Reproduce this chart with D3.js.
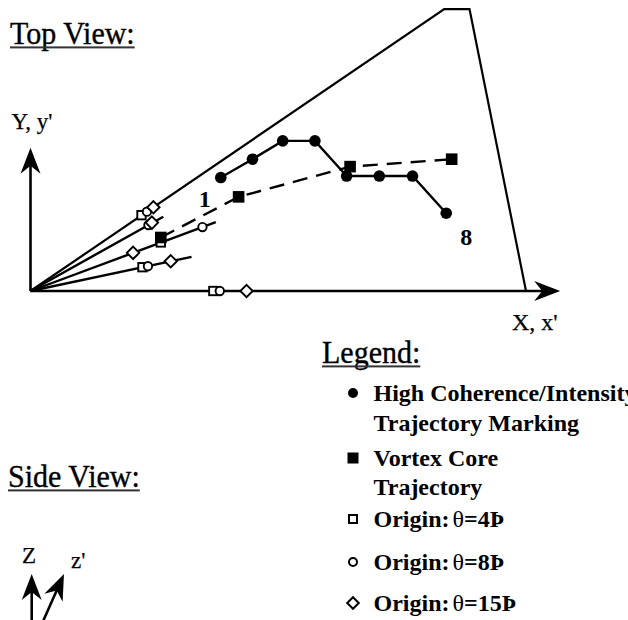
<!DOCTYPE html>
<html>
<head>
<meta charset="utf-8">
<script src="https://cdn.jsdelivr.net/npm/d3@7"></script>
<style>
  html, body { margin: 0; padding: 0; background: #fff; }
  svg { display: block; }
</style>
</head>
<body>
<svg id="fig" width="628" height="620"></svg>
<script>
// ---- planform geometry (percent of root chord, origin at the apex) ----
const planform = [[0, 0], [83.5, 56.9], [88.6, 56.9], [100, 0]];

// spanwise stations (rays from the apex); the x axis is the last one
const rayEnds = [[26.8, 15.0], [37.4, 13.9], [32.5, 6.9]];

// origin of the vortex at each station, for three angles of attack
const origin4  = [[22.4, 15.3], [26.3, 9.8], [22.6, 4.8], [36.9, 0]];
const origin8  = [[23.5, 16.0], [23.8, 13.3], [34.7, 12.9], [23.7, 5.0], [38.2, 0]];
const origin15 = [[24.8, 16.9], [24.5, 13.8], [20.7, 7.7], [28.3, 6.0], [43.6, 0]];

// high coherence / intensity trajectory markings 1..8
const markingX = [38.4, 44.8, 50.9, 57.4, 63.8, 70.4, 77.1, 83.9];
const markingY = [22.9, 26.6, 30.3, 30.3, 23.2, 23.2, 23.2, 15.7];

// vortex core trajectory
const coreX = [26.3, 42.0, 64.5, 85.0];
const coreY = [10.8, 19.0, 25.1, 26.6];

// axis extents (arrow tips)
const xAxisEnd = 106.9;
const yAxisEnd = 28.9;

const legendItems = [
  { mark: "dot",     lines: ["High Coherence/Intensity", "Trajectory Marking"] },
  { mark: "square",  lines: ["Vortex Core", "Trajectory"] },
  { mark: "osquare", lines: ["Origin:", "θ", "=4Þ"] },
  { mark: "ocircle", lines: ["Origin:", "θ", "=8Þ"] },
  { mark: "odiamond",lines: ["Origin:", "θ", "=15Þ"] }
];

const FONT = "'Liberation Serif','Times New Roman',Times,serif";
const svg = d3.select("#fig");

const x = d3.scaleLinear().domain([0, 100]).range([30.5, 526]);
const y = d3.scaleLinear().domain([0, 100]).range([291, 291 - 495.5]);

// barbed arrow head, tip at (tx,ty), pointing along angle (deg, svg convention)
function arrowHead(g, tipX, tipY, ang) {
  g.append("path")
    .attr("d", "M0,0 L-26,-10 L-18,0 L-26,10 Z")
    .attr("transform", `translate(${tipX},${tipY}) rotate(${ang})`)
    .attr("fill", "#000");
}

// section heading, slightly tall, with a rule beneath it
function underlinedTitle(txt, px, py, size) {
  const g = svg.append("g")
    .attr("transform", `translate(${px},${py}) scale(1,1.08)`);
  const t = g.append("text")
    .attr("x", 0).attr("y", 0)
    .attr("font-family", FONT).attr("font-size", size)
    .attr("fill", "#000").attr("stroke", "#000").attr("stroke-width", 0.35)
    .text(txt);
  const w = t.node().getComputedTextLength();
  svg.append("rect").attr("x", px).attr("y", py + 2.4)
    .attr("width", w).attr("height", 2).attr("fill", "#333");
}

// ---------------- Top view ----------------
underlinedTitle("Top View:", 10, 44, 30);

const topView = svg.append("g");

// axes
topView.append("line")
  .attr("x1", x(0)).attr("y1", y(0)).attr("x2", x(xAxisEnd) - 12).attr("y2", y(0))
  .attr("stroke", "#000").attr("stroke-width", 2.6);
arrowHead(topView, x(xAxisEnd), y(0), 0);
topView.append("line")
  .attr("x1", x(0)).attr("y1", y(0)).attr("x2", x(0)).attr("y2", y(yAxisEnd) + 12)
  .attr("stroke", "#000").attr("stroke-width", 2.6);
arrowHead(topView, x(0), y(yAxisEnd), -90);

topView.append("text").attr("x", 11.5).attr("y", 128.5)
  .attr("font-family", FONT).attr("font-size", 23)
  .attr("stroke", "#000").attr("stroke-width", 0.25).text("Y, y'");
topView.append("text").attr("x", 512).attr("y", 330)
  .attr("font-family", FONT).attr("font-size", 24)
  .attr("stroke", "#000").attr("stroke-width", 0.25).text("X, x'");

// planform outline
topView.append("path")
  .attr("d", d3.line().x(d => x(d[0])).y(d => y(d[1]))(planform))
  .attr("fill", "none").attr("stroke", "#000").attr("stroke-width", 2.2)
  .attr("stroke-linejoin", "miter");

// spanwise rays
topView.selectAll("line.ray").data(rayEnds).join("line")
  .attr("class", "ray")
  .attr("x1", x(0)).attr("y1", y(0))
  .attr("x2", d => x(d[0])).attr("y2", d => y(d[1]))
  .attr("stroke", "#000").attr("stroke-width", 2.4);

// origin markers
const hollow = { fill: "#fff", stroke: "#000", sw: 1.9 };
topView.selectAll("rect.o4").data(origin4).join("rect")
  .attr("class", "o4")
  .attr("x", d => x(d[0]) - 4.2).attr("y", d => y(d[1]) - 4.2)
  .attr("width", 8.4).attr("height", 8.4)
  .attr("fill", hollow.fill).attr("stroke", hollow.stroke).attr("stroke-width", hollow.sw);
topView.selectAll("circle.o8").data(origin8).join("circle")
  .attr("class", "o8")
  .attr("cx", d => x(d[0])).attr("cy", d => y(d[1])).attr("r", 4.2)
  .attr("fill", hollow.fill).attr("stroke", hollow.stroke).attr("stroke-width", hollow.sw);
topView.selectAll("path.o15").data(origin15).join("path")
  .attr("class", "o15")
  .attr("d", d => {
    const cx = x(d[0]), cy = y(d[1]), r = 6.2;
    return `M${cx},${cy - r}L${cx + r},${cy}L${cx},${cy + r}L${cx - r},${cy}Z`;
  })
  .attr("fill", hollow.fill).attr("stroke", hollow.stroke).attr("stroke-width", hollow.sw);

// vortex core trajectory (dashed)
const core = coreX.map((v, i) => [v, coreY[i]]);
topView.append("path")
  .attr("d", d3.line().x(d => x(d[0])).y(d => y(d[1]))(core))
  .attr("fill", "none").attr("stroke", "#000").attr("stroke-width", 2.4)
  .attr("stroke-dasharray", "15,9");

// high coherence trajectory
const marks = markingX.map((v, i) => [v, markingY[i]]);
topView.append("path")
  .attr("d", d3.line().x(d => x(d[0])).y(d => y(d[1]))(marks))
  .attr("fill", "none").attr("stroke", "#000").attr("stroke-width", 2.4);
topView.selectAll("circle.mk").data(marks).join("circle")
  .attr("class", "mk")
  .attr("cx", d => x(d[0])).attr("cy", d => y(d[1])).attr("r", 5.8)
  .attr("fill", "#000");

topView.selectAll("rect.core").data(core).join("rect")
  .attr("class", "core")
  .attr("x", d => x(d[0]) - 5.8).attr("y", d => y(d[1]) - 5.8)
  .attr("width", 11.6).attr("height", 11.6).attr("fill", "#000");

// first and last marking numbers
const first = marks[0], last = marks[marks.length - 1];
topView.append("text").attr("x", x(first[0]) - 16).attr("y", y(first[1]) + 29)
  .attr("text-anchor", "middle").attr("font-family", FONT)
  .attr("font-weight", "bold").attr("font-size", 24).text("1");
topView.append("text").attr("x", x(last[0]) + 20).attr("y", y(last[1]) + 32)
  .attr("text-anchor", "middle").attr("font-family", FONT)
  .attr("font-weight", "bold").attr("font-size", 24).text("8");

// ---------------- Legend ----------------
underlinedTitle("Legend:", 322, 363, 30);

const legRows = [
  { item: 0, base: [401, 431] },
  { item: 1, base: [466, 495] },
  { item: 2, base: [527] },
  { item: 3, base: [570] },
  { item: 4, base: [611] }
];
const lg = svg.append("g");
const mx = 353, tx = 373.5;
legRows.forEach(r => {
  const it = legendItems[r.item];
  const my = r.base[0] - 8;
  if (it.mark === "dot") {
    lg.append("circle").attr("cx", mx).attr("cy", my).attr("r", 5).attr("fill", "#000");
  } else if (it.mark === "square") {
    lg.append("rect").attr("x", mx - 5.5).attr("y", my - 5.5)
      .attr("width", 11).attr("height", 11).attr("fill", "#000");
  } else if (it.mark === "osquare") {
    lg.append("rect").attr("x", mx - 4).attr("y", my - 4).attr("width", 8).attr("height", 8)
      .attr("fill", "#fff").attr("stroke", "#000").attr("stroke-width", 2);
  } else if (it.mark === "ocircle") {
    lg.append("circle").attr("cx", mx).attr("cy", my).attr("r", 4)
      .attr("fill", "#fff").attr("stroke", "#000").attr("stroke-width", 2);
  } else {
    const rr = 5.8;
    lg.append("path")
      .attr("d", `M${mx},${my - rr}L${mx + rr},${my}L${mx},${my + rr}L${mx - rr},${my}Z`)
      .attr("fill", "#fff").attr("stroke", "#000").attr("stroke-width", 2);
  }
  if (it.mark.startsWith("o")) {
    const t = lg.append("text").attr("x", tx).attr("y", r.base[0])
      .attr("font-family", FONT).attr("font-size", 24).attr("font-weight", "bold");
    t.append("tspan").text(it.lines[0]);
    t.append("tspan").attr("dx", 3).attr("font-weight", "normal").text(it.lines[1]);
    t.append("tspan").text(it.lines[2]);
  } else {
    it.lines.forEach((ln, i) => {
      lg.append("text").attr("x", tx).attr("y", r.base[i])
        .attr("font-family", FONT).attr("font-size", 24).attr("font-weight", "bold")
        .text(ln);
    });
  }
});

// ---------------- Side view ----------------
underlinedTitle("Side View:", 8, 487, 30);
const side = svg.append("g");
side.append("text").attr("x", 29).attr("y", 563).attr("text-anchor", "middle")
  .attr("font-family", FONT).attr("font-size", 23)
  .attr("stroke", "#000").attr("stroke-width", 0.25).text("Z");
side.append("text").attr("x", 71).attr("y", 568)
  .attr("font-family", FONT).attr("font-size", 23)
  .attr("stroke", "#000").attr("stroke-width", 0.25).text("z'");
side.append("line").attr("x1", 31.7).attr("y1", 625).attr("x2", 31.7).attr("y2", 586)
  .attr("stroke", "#000").attr("stroke-width", 2.6);
arrowHead(side, 31.7, 574, -90);
const sAng = Math.atan2(574 - 622, 64 - 42.7) * 180 / Math.PI;
side.append("line").attr("x1", 42.7).attr("y1", 622)
  .attr("x2", 64 - 12 * Math.cos(sAng * Math.PI / 180))
  .attr("y2", 574 - 12 * Math.sin(sAng * Math.PI / 180))
  .attr("stroke", "#000").attr("stroke-width", 2.6);
arrowHead(side, 64, 574, sAng);
</script>
</body>
</html>
